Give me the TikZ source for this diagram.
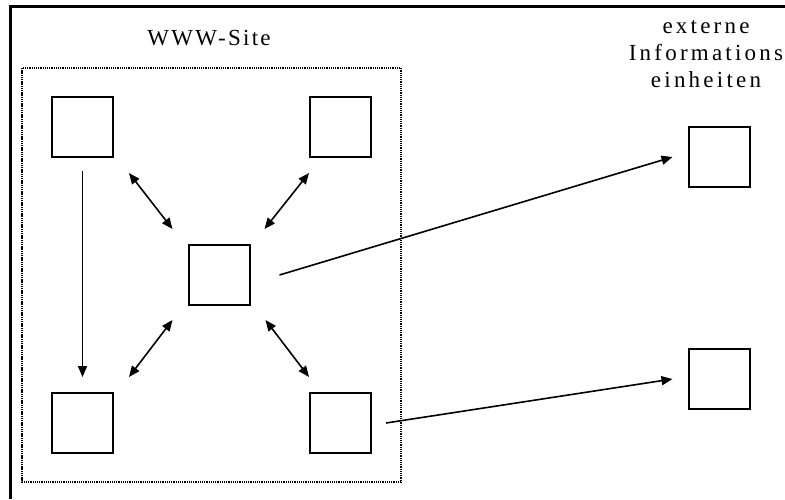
\documentclass[tikz,border=0pt]{standalone}
\usepackage{fontspec}
\setmainfont{Liberation Serif}
\usetikzlibrary{arrows.meta,calc}

\tikzset{
  infobox/.style={draw, line width=2pt, minimum width=61pt, minimum height=60pt, inner sep=0pt},
  tip/.tip={Triangle[length=11pt,width=9pt]},
  link/.style={line width=1.6pt, -tip},
  biglink/.style={line width=1.6pt, tip-tip},
  sitebox/.style={line width=2pt, dash pattern=on 1.3pt off 0.9pt},
  caption/.style={inner sep=0pt, font=\fontsize{23}{27}\selectfont\addfontfeature{LetterSpace=#1}}
}

\begin{document}
\begin{tikzpicture}[x=1pt, y=-1pt]
  \useasboundingbox (0,0) rectangle (785,499);

  % outer frame (left and top edges)
  \draw[line width=3pt] (10.5,499) -- (10.5,6) -- (785,6);

  % the web site area
  \draw[sitebox] (22,68) rectangle (401,482);
  \node[caption=10, anchor=base] (sitelabel) at (209,45.5) {WWW-Site};

  % pages of the site
  \node[infobox] (tl) at (82.5,127) {};
  \node[infobox] (tr) at (340.5,127) {};
  \node[infobox] (bl) at (82.5,423) {};
  \node[infobox] (br) at (340.5,423) {};
  \node[infobox] (c)  at (219,275) {};

  % external units
  \node[caption=14, align=center, anchor=base] (extlabel) at (706,87)
    {externe\\Informations\\einheiten};
  \node[infobox] (e1) at (719,157) {};
  \node[infobox] (e2) at (719,379) {};

  % links inside the site
  \draw[link] ($(tl.south)+(0,13)$) -- ($(bl.north)+(0,-15)$);
  \draw[biglink] ($(tl.south east)+(15,15)$) -- ($(c.north west)+(-15,-15)$);
  \draw[biglink] ($(tr.south west)+(0,15)$) -- ($(c.north east)+(14,-15)$);
  \draw[biglink] ($(bl.north east)+(15,-15)$) -- ($(c.south west)+(-15,14)$);
  \draw[biglink] ($(br.north west)+(0,-15)$) -- ($(c.south east)+(15,14)$);

  % links to the external units
  \draw[link] ($(c.east)+(29,0)$) -- ($(e1.west)+(-15,0)$);
  \draw[link] ($(br.east)+(14,0)$) -- ($(e2.west)+(-15,0)$);
\end{tikzpicture}
\end{document}
